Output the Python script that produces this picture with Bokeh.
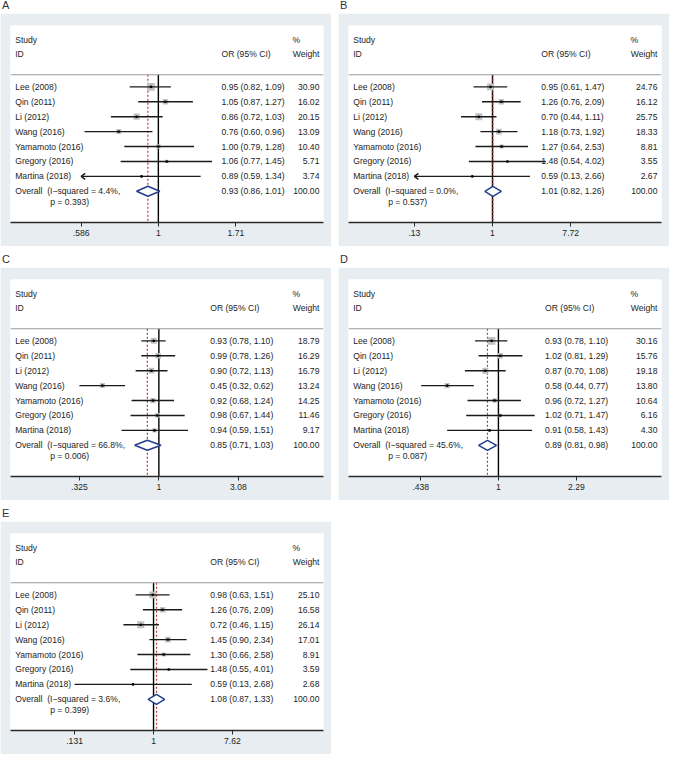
import math
from bokeh.plotting import figure
from bokeh.models import Range1d, FixedTicker, Span, Div, Spacer
from bokeh.layouts import row, column
from bokeh.core.properties import value
from bokeh.embed import file_html
from bokeh.resources import INLINE

studies = ["Lee (2008)", "Qin (2011)", "Li (2012)", "Wang (2016)",
           "Yamamoto (2016)", "Gregory (2016)", "Martina (2018)"]

# Panel A
a_or = [0.95, 1.05, 0.86, 0.76, 1.00, 1.06, 0.89]
a_lo = [0.82, 0.87, 0.72, 0.60, 0.79, 0.77, 0.59]
a_hi = [1.09, 1.27, 1.03, 0.96, 1.28, 1.45, 1.34]
a_w = [30.90, 16.02, 20.15, 13.09, 10.40, 5.71, 3.74]
a_overall = [0.93, 0.86, 1.01]
a_i2, a_p = 4.4, 0.393
a_ticks = [0.586, 1, 1.71]
a_tick_labels = [".586", "1", "1.71"]
a_arrow = [0, 0, 0, 0, 0, 0, 1]

# Panel B
b_or = [0.95, 1.26, 0.70, 1.18, 1.27, 1.48, 0.59]
b_lo = [0.61, 0.76, 0.44, 0.73, 0.64, 0.54, 0.13]
b_hi = [1.47, 2.09, 1.11, 1.92, 2.53, 4.02, 2.66]
b_w = [24.76, 16.12, 25.75, 18.33, 8.81, 3.55, 2.67]
b_overall = [1.01, 0.82, 1.26]
b_i2, b_p = 0.0, 0.537
b_ticks = [0.13, 1, 7.72]
b_tick_labels = [".13", "1", "7.72"]
b_arrow = [0, 0, 0, 0, 0, 0, 1]

# Panel C
c_or = [0.93, 0.99, 0.90, 0.45, 0.92, 0.98, 0.94]
c_lo = [0.78, 0.78, 0.72, 0.32, 0.68, 0.67, 0.59]
c_hi = [1.10, 1.26, 1.13, 0.62, 1.24, 1.44, 1.51]
c_w = [18.79, 16.29, 16.79, 13.24, 14.25, 11.46, 9.17]
c_overall = [0.85, 0.71, 1.03]
c_i2, c_p = 66.8, 0.006
c_ticks = [0.325, 1, 3.08]
c_tick_labels = [".325", "1", "3.08"]
c_arrow = [0, 0, 0, 0, 0, 0, 0]

# Panel D
d_or = [0.93, 1.02, 0.87, 0.58, 0.96, 1.02, 0.91]
d_lo = [0.78, 0.81, 0.70, 0.44, 0.72, 0.71, 0.58]
d_hi = [1.10, 1.29, 1.08, 0.77, 1.27, 1.47, 1.43]
d_w = [30.16, 15.76, 19.18, 13.80, 10.64, 6.16, 4.30]
d_overall = [0.89, 0.81, 0.98]
d_i2, d_p = 45.6, 0.087
d_ticks = [0.438, 1, 2.29]
d_tick_labels = [".438", "1", "2.29"]
d_arrow = [0, 0, 0, 0, 0, 0, 0]

# Panel E
e_or = [0.98, 1.26, 0.72, 1.45, 1.30, 1.48, 0.59]
e_lo = [0.63, 0.76, 0.46, 0.90, 0.66, 0.55, 0.13]
e_hi = [1.51, 2.09, 1.15, 2.34, 2.58, 4.01, 2.68]
e_w = [25.10, 16.58, 26.14, 17.01, 8.91, 3.59, 2.68]
e_overall = [1.08, 0.87, 1.33]
e_i2, e_p = 3.6, 0.399
e_ticks = [0.131, 1, 7.62]
e_tick_labels = [".131", "1", "7.62"]
e_arrow = [0, 0, 0, 0, 0, 0, 0]

panels = [
    dict(letter="A", orv=a_or, lo=a_lo, hi=a_hi, w=a_w, ov=a_overall, i2=a_i2, p=a_p,
         ticks=a_ticks, tl=a_tick_labels, arrow=a_arrow),
    dict(letter="B", orv=b_or, lo=b_lo, hi=b_hi, w=b_w, ov=b_overall, i2=b_i2, p=b_p,
         ticks=b_ticks, tl=b_tick_labels, arrow=b_arrow),
    dict(letter="C", orv=c_or, lo=c_lo, hi=c_hi, w=c_w, ov=c_overall, i2=c_i2, p=c_p,
         ticks=c_ticks, tl=c_tick_labels, arrow=c_arrow),
    dict(letter="D", orv=d_or, lo=d_lo, hi=d_hi, w=d_w, ov=d_overall, i2=d_i2, p=d_p,
         ticks=d_ticks, tl=d_tick_labels, arrow=d_arrow),
    dict(letter="E", orv=e_or, lo=e_lo, hi=e_hi, w=e_w, ov=e_overall, i2=e_i2, p=e_p,
         ticks=e_ticks, tl=e_tick_labels, arrow=e_arrow),
]

# layout: fraction of frame width for tick "1", max tick, OR column
LAYOUT = {"A": (0.4724, 0.720, 0.674), "B": (0.460, 0.710, 0.616),
          "C": (0.474, 0.728, 0.638), "D": (0.479, 0.728, 0.628),
          "E": (0.457, 0.709, 0.638)}

FONT = value("Liberation Sans")
FS = value("8.6px")
TXT = "#1e1e1e"
GRAY_BG = "#e7edf0"
PW, PH = 331, 233
BL, BR, BT, BB = 10, 8, 12, 24
FW, FH = PW - BL - BR, PH - BT - BB
Y_TOP, Y_BOT = 4.11, -9.09
PX_ROW = FH / (Y_TOP - Y_BOT)
SEP_Y = 0.81


def make_panel(d):
    f1, fM, f_or = LAYOUT[d["letter"]]
    tmin, tmax = math.log(d["ticks"][0]), math.log(d["ticks"][2])
    ppl = (fM - f1) * FW / tmax
    L = -f1 * FW / ppl
    R = (1 - f1) * FW / ppl
    span = R - L

    p = figure(width=PW, height=PH, x_range=Range1d(L, R), y_range=Range1d(Y_BOT, Y_TOP),
               output_backend="svg", toolbar_location=None, y_axis_location=None,
               min_border_left=BL, min_border_right=BR, min_border_top=BT, min_border_bottom=BB,
               border_fill_color=GRAY_BG, background_fill_color="white", outline_line_color=None)
    p.xgrid.visible = False
    p.ygrid.visible = False
    ax = p.xaxis[0]
    tick_pos = [math.log(t) for t in d["ticks"]]
    ax.ticker = FixedTicker(ticks=tick_pos)
    ax.major_label_overrides = {tp: lab for tp, lab in zip(tick_pos, d["tl"])}
    ax.axis_line_color = "#2a2a2a"
    ax.axis_line_width = 1.5
    ax.major_tick_line_color = "#2a2a2a"
    ax.major_tick_out = 4
    ax.major_tick_in = 0
    ax.minor_tick_line_color = None
    ax.major_label_text_font = "Liberation Sans"
    ax.major_label_text_font_size = "8.6px"
    ax.major_label_text_color = TXT
    ax.major_label_standoff = 3

    n = len(studies)
    ys = [-i for i in range(n)]
    x_study = L + 0.015 * span
    x_or = L + f_or * span
    x_w = L + 0.987 * span

    # separator
    p.add_layout(Span(location=SEP_Y, dimension="width", line_color="#9a9a9a", line_width=1))
    # null line
    p.segment(x0=[0], y0=[SEP_Y], x1=[0], y1=[Y_BOT], line_color="black", line_width=1.4)
    # overall dashed line
    lov = math.log(d["ov"][0])
    p.segment(x0=[lov], y0=[SEP_Y], x1=[lov], y1=[Y_BOT], line_color="#b23a3a",
              line_width=1.2, line_dash=value("2 2"))

    # boxes
    sizes = [1.38 * math.sqrt(w) for w in d["w"]]
    p.scatter(x=[math.log(v) for v in d["orv"]], y=ys, size=sizes, marker="square",
              fill_color="#c2c2c2", line_color=None)
    # CI lines
    x0 = [max(math.log(v), tmin) for v in d["lo"]]
    x1 = [min(math.log(v), tmax) for v in d["hi"]]
    p.segment(x0=x0, y0=ys, x1=x1, y1=ys, line_color="#1a1a1a", line_width=1.4)
    # arrows
    dx = 4 / ppl
    dy = 3 / PX_ROW
    for i, a in enumerate(d["arrow"]):
        if a:
            p.line(x=[tmin + dx, tmin, tmin + dx], y=[ys[i] + dy, ys[i], ys[i] - dy],
                   line_color="#1a1a1a", line_width=1.4)
    # center points
    p.scatter(x=[math.log(v) for v in d["orv"]], y=ys, size=2.6, marker="circle",
              fill_color="black", line_color=None)

    # diamond
    yo = -n
    hh = 5 / PX_ROW
    ol, oh = math.log(d["ov"][1]), math.log(d["ov"][2])
    p.patch(x=[ol, lov, oh, lov], y=[yo, yo + hh, yo, yo - hh], fill_color="white",
            line_color="#253f8f", line_width=1.5)

    tk = dict(text_font=FONT, text_font_size=FS, text_color=TXT, text_baseline="middle")
    # headers
    p.text(x=[x_study, x_study], y=[3.12, 2.18], text=["Study", "ID"], text_align="left", **tk)
    p.text(x=[x_or], y=[2.18], text=["OR (95% CI)"], text_align="left", **tk)
    p.text(x=[x_w], y=[3.12], text=["%"], text_align="left", x_offset=-27, **tk)
    p.text(x=[x_w], y=[2.18], text=["Weight"], text_align="right", **tk)

    # study rows
    p.text(x=[x_study] * n, y=ys, text=studies, text_align="left", **tk)
    ci_txt = [f"{o:.2f} ({l:.2f}, {h:.2f})" for o, l, h in zip(d["orv"], d["lo"], d["hi"])]
    p.text(x=[x_or] * n, y=ys, text=ci_txt, text_align="left", **tk)
    p.text(x=[x_w] * n, y=ys, text=[f"{w:.2f}" for w in d["w"]], text_align="right", **tk)

    # overall
    p.text(x=[x_study], y=[yo], text=[f"Overall\u00a0 (I\u2212squared = {d['i2']:.1f}%,"],
           text_align="left", **tk)
    p.text(x=[x_study], y=[yo - 0.72], text=[f"p = {d['p']:.3f})"], text_align="left",
           x_offset=35, **tk)
    ov = d["ov"]
    p.text(x=[x_or], y=[yo], text=[f"{ov[0]:.2f} ({ov[1]:.2f}, {ov[2]:.2f})"],
           text_align="left", **tk)
    p.text(x=[x_w], y=[yo], text=["100.00"], text_align="right", **tk)
    return p


def letter_div(t):
    return Div(text=t, width=PW, height=13, margin=(0, 0, 0, 0),
               styles={"font-family": "Liberation Sans, Arial, sans-serif", "font-size": "11px",
                       "line-height": "11px", "color": "#333", "text-indent": "2px"})


figs = [make_panel(d) for d in panels]
GAP = 7
layout = column(
    row(letter_div("A"), Spacer(width=GAP, height=13), letter_div("B")),
    row(figs[0], Spacer(width=GAP, height=PH), figs[1]),
    Spacer(width=10, height=8),
    row(letter_div("C"), Spacer(width=GAP, height=13), letter_div("D")),
    row(figs[2], Spacer(width=GAP, height=PH), figs[3]),
    Spacer(width=10, height=8),
    row(letter_div("E")),
    row(figs[4]),
)

open("out.html", "w").write(file_html(layout, INLINE))
